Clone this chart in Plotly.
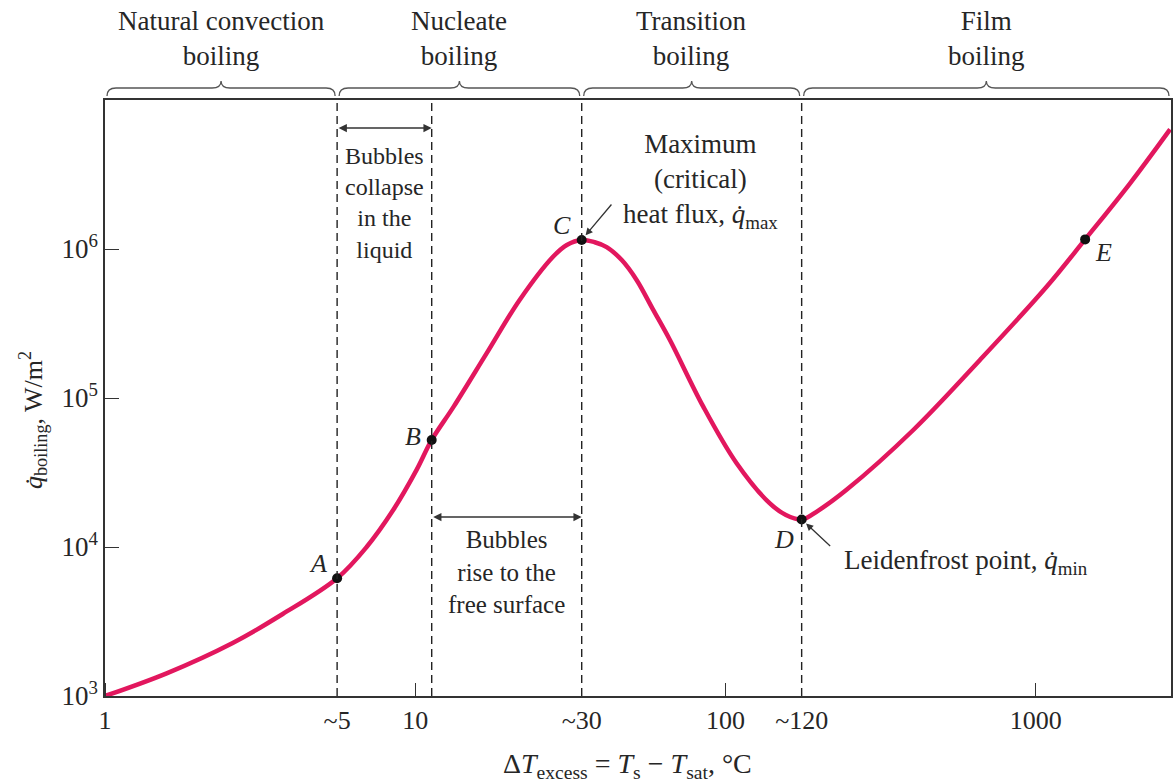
import numpy as np
import plotly.graph_objects as go

# ---- data (boiling curve) ----
dT = [1.0, 1.58, 2.58, 3.74, 5.60, 6.97, 8.49, 10.1, 11.3, 13.3, 17.0, 21.7, 27.8, 30.8, 34.4,
      37.9, 41.4, 46.3, 51.7, 58.3, 66.2, 84.8, 108.6, 139, 156.6, 176, 198.6, 245, 403, 661,
      1084, 1443, 2014, 2710]
q = [1000, 1420, 2270, 3550, 6170, 10000, 17700, 32900, 52300, 87500, 200000, 455000, 887000,
     1065000, 1150000, 1110000, 1030000, 843000, 620000, 395000, 245000, 87500, 36500, 19600,
     16400, 15300, 17500, 24100, 61000, 180000, 558000, 1160000, 2760000, 6350000]

pt_names = ["A", "B", "C", "D", "E"]
pt_dT = [5.60, 11.3, 34.4, 176, 1443]
pt_q = [6170, 52300, 1150000, 15300, 1160000]

x_tickvals = [1, 5.60, 10, 34.4, 100, 176, 1000]
x_ticktext = ["1", "~5", "10", "~30", "100", "~120", "1000"]
x_major = [1, 10, 100, 1000]
y_tickvals = [1e3, 1e4, 1e5, 1e6]
y_ticktext = ["10<sup>3</sup>", "10<sup>4</sup>", "10<sup>5</sup>", "10<sup>6</sup>"]

regions = ["Natural convection<br>boiling", "Nucleate<br>boiling",
           "Transition<br>boiling", "Film<br>boiling"]

# ---- layout constants ----
W, H = 1176, 784
ML, MR, MT, MB = 105, 5, 100, 88
PW, PH = W - ML - MR, H - MT - MB
XR = [0, 3.436]
YR = [3, 7]
FONT = "Liberation Serif"
TXT = "#262626"
PINK = "#E2175E"

fig = go.Figure()
fig.add_trace(go.Scatter(x=dT, y=q, mode="lines",
                         line=dict(color=PINK, width=4.5, shape="spline", smoothing=1.0),
                         hoverinfo="skip", showlegend=False))
fig.add_trace(go.Scatter(x=pt_dT, y=pt_q, mode="markers", marker=dict(color="#111", size=10),
                         showlegend=False))

lg = lambda v: float(np.log10(v))


def to_paper(v):
    return (lg(v) - XR[0]) / (XR[1] - XR[0])


def ylog_px(py):
    return YR[0] + (MT + PH - py) / PH * (YR[1] - YR[0])


def xlog_px(px):
    return XR[0] + (px - ML) / PW * (XR[1] - XR[0])


shapes = []
# dashed boundaries at A, B, C, D
for v in pt_dT[:4]:
    shapes.append(dict(type="line", xref="x", yref="paper", x0=v, x1=v, y0=0, y1=1,
                       line=dict(color="#222", width=1.4, dash="8px,5px")))

# curly braces above the plot
bounds = [1, pt_dT[0], pt_dT[2], pt_dT[3], 10 ** XR[1]]
yb = 1 + 4 / PH
ym = 1 + 12 / PH
yt = 1 + 19 / PH
dx = 9 / PW
gap = 2 / PW
for i in range(4):
    a = to_paper(bounds[i]) + gap
    b = to_paper(bounds[i + 1]) - gap
    m = (a + b) / 2
    path = (f"M {a},{yb} Q {a},{ym} {a+dx},{ym} L {m-dx},{ym} Q {m},{ym} {m},{yt} "
            f"Q {m},{ym} {m+dx},{ym} L {b-dx},{ym} Q {b},{ym} {b},{yb}")
    shapes.append(dict(type="path", xref="paper", yref="paper", path=path,
                       line=dict(color="#555", width=1.3)))

ann = []
for i in range(4):
    m = (lg(bounds[i]) + lg(bounds[i + 1])) / 2
    ann.append(dict(x=m, y=1, xref="x", yref="paper", yanchor="bottom", yshift=27,
                    text=regions[i], showarrow=False, font=dict(family=FONT, size=27, color=TXT)))

# double arrows
for (i0, i1, py) in [(0, 1, 128), (1, 2, 517)]:
    ann.append(dict(x=lg(pt_dT[i1]), y=ylog_px(py), ax=lg(pt_dT[i0]), ay=ylog_px(py),
                    xref="x", yref="y", axref="x", ayref="y", text="", showarrow=True,
                    arrowside="end+start", arrowhead=2, arrowsize=1.1, arrowwidth=1.5,
                    arrowcolor="#333", standoff=0, startstandoff=0))

ann.append(dict(x=(lg(pt_dT[0]) + lg(pt_dT[1])) / 2, y=ylog_px(203), xref="x", yref="y",
                text="Bubbles<br>collapse<br>in the<br>liquid", showarrow=False,
                font=dict(family=FONT, size=24, color=TXT)))
ann.append(dict(x=(lg(pt_dT[1]) + lg(pt_dT[2])) / 2, y=ylog_px(572), xref="x", yref="y",
                text="Bubbles<br>rise to the<br>free surface", showarrow=False,
                font=dict(family=FONT, size=25, color=TXT)))
ann.append(dict(x=xlog_px(700), y=ylog_px(181), xref="x", yref="y",
                text="Maximum<br>(critical)<br>heat flux, <i>q\u0307</i><sub>max</sub>", showarrow=False,
                font=dict(family=FONT, size=27, color=TXT)))
ann.append(dict(x=xlog_px(842), y=ylog_px(562), xref="x", yref="y", xanchor="left",
                text="Leidenfrost point, <i>q\u0307</i><sub>min</sub>", showarrow=False,
                font=dict(family=FONT, size=27, color=TXT)))
# pointer arrows
ann.append(dict(x=lg(pt_dT[2]), y=lg(pt_q[2]), xref="x", yref="y", ax=31, ay=-37, text="",
                showarrow=True, arrowhead=2, arrowsize=1.1, arrowwidth=1.3, arrowcolor="#333", standoff=6))
ann.append(dict(x=lg(pt_dT[3]), y=lg(pt_q[3]), xref="x", yref="y", ax=30, ay=28, text="",
                showarrow=True, arrowhead=2, arrowsize=1.1, arrowwidth=1.3, arrowcolor="#333", standoff=6))

# point labels
shifts = [(-19, 15), (-19, 3), (-20, 14), (-18, -20), (18, -13)]
for n, xv, yv, (sx, sy) in zip(pt_names, pt_dT, pt_q, shifts):
    ann.append(dict(x=lg(xv), y=lg(yv), xref="x", yref="y", xshift=sx, yshift=sy, text=f"<i>{n}</i>",
                    showarrow=False, font=dict(family=FONT, size=26, color=TXT)))

# axis titles as annotations for exact placement
ann.append(dict(x=(627 - ML) / PW, y=0, xref="paper", yref="paper", yshift=-69, yanchor="middle",
                text="\u0394<i>T</i><sub>excess</sub> = <i>T</i><sub>s</sub> \u2212 <i>T</i><sub>sat</sub>, \u00b0C",
                showarrow=False, font=dict(family=FONT, size=28, color=TXT)))
ann.append(dict(x=0, y=ylog_px(420), xref="paper", yref="y", xshift=-(ML - 33), xanchor="center",
                yanchor="middle", textangle=-90,
                text="<i>q\u0307</i><sub>boiling</sub>, W/m<sup>2</sup>",
                showarrow=False, font=dict(family=FONT, size=26, color=TXT)))

fig.update_layout(
    width=W, height=H, margin=dict(l=ML, r=MR, t=MT, b=MB, autoexpand=False),
    paper_bgcolor="white", plot_bgcolor="white",
    font=dict(family=FONT, size=24, color=TXT),
    shapes=shapes, annotations=ann, showlegend=False,
    xaxis=dict(type="log", range=XR, tickmode="array", tickvals=x_tickvals, ticktext=x_ticktext,
               ticks="", showgrid=False, zeroline=False, showline=True, linecolor="#333", linewidth=1.5,
               mirror=True, ticklabelstandoff=0, automargin=False,
               tickfont=dict(family=FONT, size=26, color=TXT),
               minor=dict(tickmode="array", tickvals=x_major, ticks="inside", ticklen=13, tickwidth=1.3,
                          tickcolor="#333", showgrid=False)),
    yaxis=dict(type="log", range=YR, tickmode="array", tickvals=y_tickvals, ticktext=y_ticktext,
               ticks="inside", ticklen=14, tickwidth=1.3, tickcolor="#333", showgrid=False, zeroline=False,
               showline=True, linecolor="#333", linewidth=1.5, mirror=True, automargin=False,
               tickfont=dict(family=FONT, size=27, color=TXT)),
)

fig.write_html("out.html", config={"displayModeBar": False},
               post_script="document.body.style.margin='0';document.body.style.overflow='hidden';")
